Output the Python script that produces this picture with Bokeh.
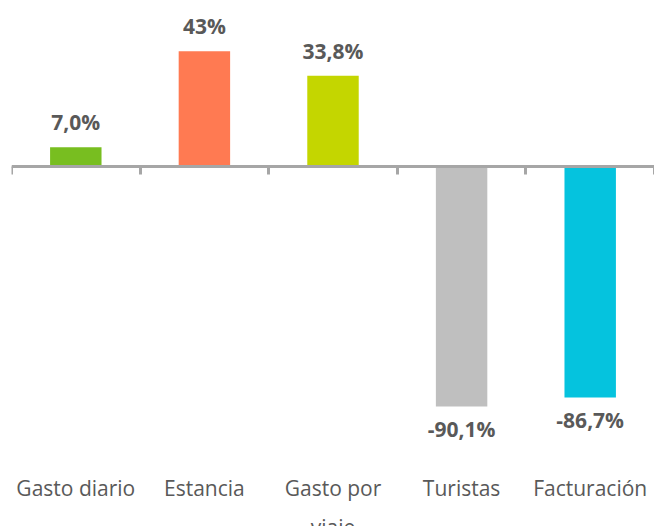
from bokeh.plotting import figure
from bokeh.models import ColumnDataSource, FixedTicker, LinearAxis, Range1d
from bokeh.core.properties import value
from bokeh.embed import file_html
from bokeh.resources import INLINE

categories = ["Gasto diario", "Estancia", "Gasto por\nviaje", "Turistas", "Facturación"]
values = [7.0, 43.0, 33.8, -90.1, -86.7]
value_labels = ["7,0%", "43%", "33,8%", "-90,1%", "-86,7%"]
colors = ["#78BE20", "#FF7A52", "#C4D600", "#BFBFBF", "#05C3DE"]

n = len(categories)
centers = [i + 0.5 for i in range(n)]
boundaries = list(range(n + 1))

FONT = "Open Sans"
TXT = "#595959"
AX = "#A6A6A6"

Y0, Y1 = -135.0, 62.0

src = ColumnDataSource(dict(
    x=centers, top=values, color=colors, label=value_labels,
    yoff=[-25 if v >= 0 else 22 for v in values],
))
cat_src = ColumnDataSource(dict(x=centers, y=[Y0] * n, label=categories))

p = figure(width=654, height=526, output_backend="svg", toolbar_location=None,
           x_range=Range1d(0, n), y_range=Range1d(Y0, Y1),
           min_border_left=11, min_border_right=0, min_border_top=0, min_border_bottom=0)
p.outline_line_color = None
p.grid.visible = False
p.xaxis.visible = False
p.yaxis.visible = False
p.background_fill_color = "white"
p.border_fill_color = "white"

p.vbar(x="x", top="top", bottom=0, width=0.4, color="color", line_color=None, source=src)

p.text(x="x", y="top", text="label", y_offset="yoff", source=src,
       text_font=value(FONT), text_font_style="bold", text_font_size="21px",
       text_color=TXT, text_align="center", text_baseline="alphabetic")

# category labels along the bottom (clipped by the window like the original)
p.text(x="x", y="y", text="label", y_offset=-53, source=cat_src,
       text_font=value(FONT), text_font_size="21px", text_line_height=1.4,
       text_color=TXT, text_align="center", text_baseline="top")

# zero axis with ticks at category boundaries
za = LinearAxis(fixed_location=0, ticker=FixedTicker(ticks=[], minor_ticks=boundaries),
                axis_line_color=AX, axis_line_width=3,
                major_tick_line_color=None, major_tick_out=0, major_tick_in=0,
                minor_tick_line_color=AX, minor_tick_line_width=3,
                minor_tick_out=0, minor_tick_in=8,
                major_label_standoff=0)
p.add_layout(za, "above")

open("out.html", "w").write(file_html(p, INLINE))
